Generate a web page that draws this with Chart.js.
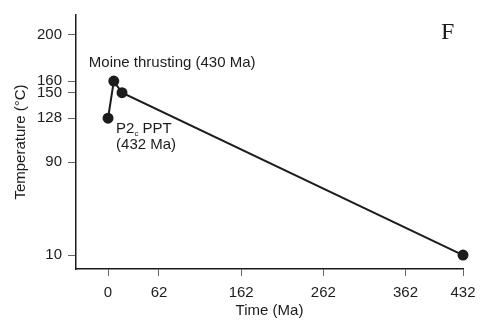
<!DOCTYPE html>
<html lang="en">
<head>
  <meta charset="UTF-8" />
  <title>Temperature vs time</title>
  <script src="https://cdn.jsdelivr.net/npm/chart.js"></script>
  <style>
    html, body { margin: 0; padding: 0; background: #fff; }
    .chart-box { position: relative; width: 486px; height: 321px; }
  </style>
</head>
<body>

<div class="chart-box">
  <canvas id="pathChart" role="img" aria-label="Temperature-time path"></canvas>
</div>

<script>
  // data
  const timeMa = [0, 7, 17, 432];
  const tempC = [128, 160, 150, 10];
  const xTicks = [0, 62, 162, 262, 362, 432];
  const yTicks = [10, 90, 128, 150, 160, 200];
  const panelLetter = 'F';

  const ink = '#1c1c1c';
  const font = 'Liberation Sans, Arial, sans-serif';

  // labels next to points + panel letter
  const notes = {
    id: 'notes',
    afterDatasetsDraw(chart) {
      const { ctx, scales: { x, y } } = chart;
      ctx.save();
      ctx.fillStyle = ink;
      ctx.textBaseline = 'middle';
      ctx.textAlign = 'left';
      ctx.font = '15px ' + font;

      const mx = x.getPixelForValue(timeMa[1]);
      const my = y.getPixelForValue(tempC[1]);
      ctx.fillText('Moine thrusting (430 Ma)', mx - 25, my - 18);

      const px = x.getPixelForValue(timeMa[0]);
      const py = y.getPixelForValue(tempC[0]);
      ctx.fillText('P2', px + 8, py + 11);
      const w = ctx.measureText('P2').width;
      ctx.font = '8px ' + font;
      ctx.fillText('c', px + 8 + w, py + 16);
      ctx.font = '15px ' + font;
      ctx.fillText(' PPT', px + 8 + w + 4, py + 11);
      ctx.fillText('(432 Ma)', px + 8, py + 27);

      ctx.font = '24px Liberation Serif, Times New Roman, serif';
      ctx.fillText(panelLetter, 441, 33);
      ctx.restore();
    }
  };

  new Chart(document.getElementById('pathChart'), {
    type: 'scatter',
    data: {
      datasets: [{
        data: timeMa.map((t, i) => ({ x: t, y: tempC[i] })),
        showLine: true,
        clip: false,
        borderColor: ink,
        borderWidth: 2,
        pointRadius: 4.5,
        pointBackgroundColor: ink,
        pointBorderColor: ink
      }]
    },
    options: {
      responsive: true,
      maintainAspectRatio: false,
      animation: false,
      layout: { padding: { left: 10, right: 23, top: 12, bottom: 0 } },
      plugins: { legend: { display: false }, tooltip: { enabled: false } },
      scales: {
        x: {
          type: 'linear',
          min: -39,
          max: 432,
          afterBuildTicks: s => { s.ticks = xTicks.map(v => ({ value: v })); },
          afterFit: s => { s.height = 52; },
          border: { display: true, color: ink, width: 1.5 },
          grid: { drawOnChartArea: false, drawTicks: true, tickLength: 7, color: '#666' },
          ticks: { color: ink, padding: 8, font: { size: 15, family: font }, maxRotation: 0 },
          title: { display: true, text: 'Time (Ma)', color: ink, font: { size: 15, family: font }, padding: { top: 0, bottom: 1 } }
        },
        y: {
          type: 'linear',
          min: -2,
          max: 217,
          afterBuildTicks: s => { s.ticks = yTicks.map(v => ({ value: v })); },
          afterFit: s => { s.width = 66; },
          border: { display: true, color: ink, width: 1.5 },
          grid: { drawOnChartArea: false, drawTicks: true, tickLength: 8, color: '#666' },
          ticks: { color: ink, padding: 6, font: { size: 15, family: font } },
          title: { display: true, text: 'Temperature (°C)', color: ink, font: { size: 15, family: font }, padding: { top: 2, bottom: 0 } }
        }
      }
    },
    plugins: [notes]
  });
</script>

</body>
</html>
